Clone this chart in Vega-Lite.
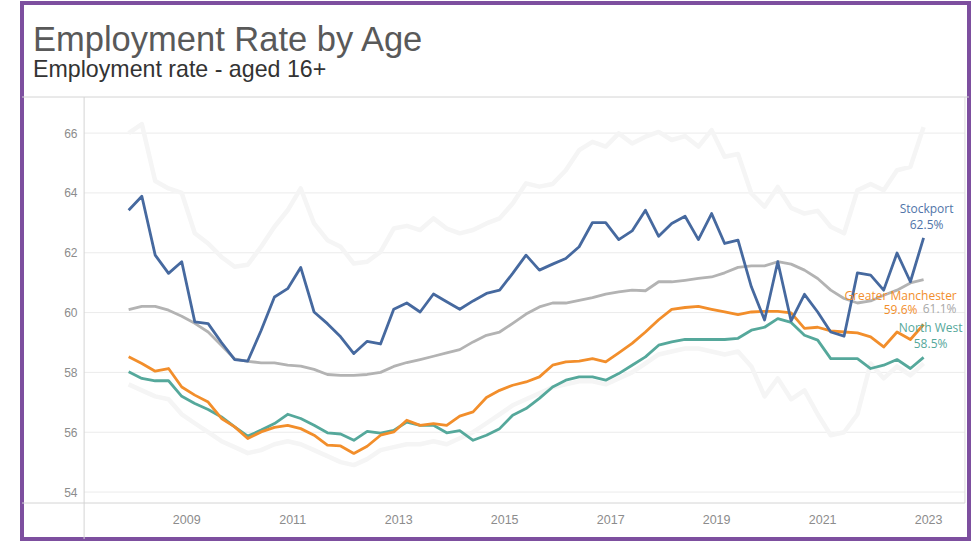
{
  "$schema": "https://vega.github.io/schema/vega-lite/v6.json",
  "width": 947,
  "height": 536,
  "autosize": {"type": "none"},
  "padding": {"left": 22, "top": 3, "right": 3, "bottom": 2},
  "background": "white",
  "view": {"stroke": "#7d4f9f", "strokeWidth": 4},
  "title": {
    "text": "Employment Rate by Age",
    "subtitle": "Employment rate - aged 16+",
    "anchor": "start",
    "frame": "group",
    "font": "Liberation Sans",
    "fontSize": 34.5,
    "fontWeight": "normal",
    "color": "#595959",
    "subtitleFont": "Liberation Sans",
    "subtitleFontSize": 23.2,
    "subtitleColor": "#333333",
    "subtitlePadding": 0,
    "offset": 0,
    "dx": 11,
    "dy": 79
  },
  "datasets": {
    "emp": [
      {"d": "2007-12-01", "SP": 63.42, "GB": 60.10, "GM": 58.52, "NW": 58.02, "HI": 66.0, "LO": 57.6},
      {"d": "2008-03-01", "SP": 63.89, "GB": 60.21, "GM": 58.30, "NW": 57.80, "HI": 66.3, "LO": 57.4},
      {"d": "2008-06-01", "SP": 61.92, "GB": 60.21, "GM": 58.04, "NW": 57.72, "HI": 64.4, "LO": 57.2},
      {"d": "2008-09-01", "SP": 61.31, "GB": 60.08, "GM": 58.13, "NW": 57.72, "HI": 64.15, "LO": 57.1},
      {"d": "2008-12-01", "SP": 61.70, "GB": 59.88, "GM": 57.51, "NW": 57.20, "HI": 64.0, "LO": 56.6},
      {"d": "2009-03-01", "SP": 59.69, "GB": 59.64, "GM": 57.24, "NW": 56.96, "HI": 62.65, "LO": 56.3},
      {"d": "2009-06-01", "SP": 59.63, "GB": 59.35, "GM": 57.01, "NW": 56.76, "HI": 62.31, "LO": 56.0},
      {"d": "2009-09-01", "SP": 59.00, "GB": 58.90, "GM": 56.46, "NW": 56.51, "HI": 61.86, "LO": 55.7},
      {"d": "2009-12-01", "SP": 58.43, "GB": 58.45, "GM": 56.18, "NW": 56.18, "HI": 61.53, "LO": 55.5},
      {"d": "2010-03-01", "SP": 58.38, "GB": 58.37, "GM": 55.79, "NW": 55.87, "HI": 61.6, "LO": 55.3},
      {"d": "2010-06-01", "SP": 59.40, "GB": 58.32, "GM": 56.01, "NW": 56.07, "HI": 62.2, "LO": 55.4},
      {"d": "2010-09-01", "SP": 60.52, "GB": 58.32, "GM": 56.16, "NW": 56.29, "HI": 62.87, "LO": 55.6},
      {"d": "2010-12-01", "SP": 60.80, "GB": 58.24, "GM": 56.23, "NW": 56.60, "HI": 63.42, "LO": 55.7},
      {"d": "2011-03-01", "SP": 61.51, "GB": 58.21, "GM": 56.12, "NW": 56.46, "HI": 64.15, "LO": 55.6},
      {"d": "2011-06-01", "SP": 60.02, "GB": 58.10, "GM": 55.90, "NW": 56.23, "HI": 62.98, "LO": 55.4},
      {"d": "2011-09-01", "SP": 59.63, "GB": 57.93, "GM": 55.57, "NW": 55.98, "HI": 62.42, "LO": 55.2},
      {"d": "2011-12-01", "SP": 59.19, "GB": 57.90, "GM": 55.54, "NW": 55.94, "HI": 62.2, "LO": 55.0},
      {"d": "2012-03-01", "SP": 58.63, "GB": 57.90, "GM": 55.29, "NW": 55.73, "HI": 61.64, "LO": 54.9},
      {"d": "2012-06-01", "SP": 59.04, "GB": 57.93, "GM": 55.53, "NW": 56.03, "HI": 61.7, "LO": 55.1},
      {"d": "2012-09-01", "SP": 58.95, "GB": 58.00, "GM": 55.90, "NW": 55.97, "HI": 62.03, "LO": 55.4},
      {"d": "2012-12-01", "SP": 60.11, "GB": 58.20, "GM": 56.01, "NW": 56.06, "HI": 62.81, "LO": 55.5},
      {"d": "2013-03-01", "SP": 60.32, "GB": 58.33, "GM": 56.40, "NW": 56.34, "HI": 62.9, "LO": 55.6},
      {"d": "2013-06-01", "SP": 60.02, "GB": 58.43, "GM": 56.23, "NW": 56.23, "HI": 62.76, "LO": 55.6},
      {"d": "2013-09-01", "SP": 60.62, "GB": 58.54, "GM": 56.29, "NW": 56.23, "HI": 63.15, "LO": 55.7},
      {"d": "2013-12-01", "SP": 60.36, "GB": 58.65, "GM": 56.23, "NW": 55.98, "HI": 62.81, "LO": 55.6},
      {"d": "2014-03-01", "SP": 60.11, "GB": 58.76, "GM": 56.54, "NW": 56.05, "HI": 62.65, "LO": 55.8},
      {"d": "2014-06-01", "SP": 60.39, "GB": 59.02, "GM": 56.68, "NW": 55.73, "HI": 62.76, "LO": 56.0},
      {"d": "2014-09-01", "SP": 60.64, "GB": 59.24, "GM": 57.16, "NW": 55.90, "HI": 62.98, "LO": 56.3},
      {"d": "2014-12-01", "SP": 60.75, "GB": 59.35, "GM": 57.40, "NW": 56.12, "HI": 63.15, "LO": 56.6},
      {"d": "2015-03-01", "SP": 61.31, "GB": 59.64, "GM": 57.57, "NW": 56.57, "HI": 63.65, "LO": 56.9},
      {"d": "2015-06-01", "SP": 61.92, "GB": 59.95, "GM": 57.68, "NW": 56.79, "HI": 64.32, "LO": 57.1},
      {"d": "2015-09-01", "SP": 61.42, "GB": 60.19, "GM": 57.85, "NW": 57.13, "HI": 64.21, "LO": 57.3},
      {"d": "2015-12-01", "SP": 61.62, "GB": 60.32, "GM": 58.24, "NW": 57.51, "HI": 64.3, "LO": 57.5},
      {"d": "2016-03-01", "SP": 61.81, "GB": 60.32, "GM": 58.35, "NW": 57.74, "HI": 64.76, "LO": 57.6},
      {"d": "2016-06-01", "SP": 62.20, "GB": 60.41, "GM": 58.38, "NW": 57.85, "HI": 65.43, "LO": 57.7},
      {"d": "2016-09-01", "SP": 63.01, "GB": 60.50, "GM": 58.46, "NW": 57.85, "HI": 65.71, "LO": 57.7},
      {"d": "2016-12-01", "SP": 63.01, "GB": 60.62, "GM": 58.35, "NW": 57.74, "HI": 65.55, "LO": 57.6},
      {"d": "2017-03-01", "SP": 62.44, "GB": 60.69, "GM": 58.65, "NW": 57.96, "HI": 65.99, "LO": 57.8},
      {"d": "2017-06-01", "SP": 62.73, "GB": 60.75, "GM": 58.97, "NW": 58.24, "HI": 65.65, "LO": 58.0},
      {"d": "2017-09-01", "SP": 63.42, "GB": 60.73, "GM": 59.35, "NW": 58.52, "HI": 65.88, "LO": 58.3},
      {"d": "2017-12-01", "SP": 62.55, "GB": 61.03, "GM": 59.76, "NW": 58.91, "HI": 66.04, "LO": 58.6},
      {"d": "2018-03-01", "SP": 62.98, "GB": 61.03, "GM": 60.11, "NW": 59.02, "HI": 65.77, "LO": 58.7},
      {"d": "2018-06-01", "SP": 63.22, "GB": 61.08, "GM": 60.17, "NW": 59.10, "HI": 65.9, "LO": 58.8},
      {"d": "2018-09-01", "SP": 62.44, "GB": 61.14, "GM": 60.21, "NW": 59.10, "HI": 65.55, "LO": 58.8},
      {"d": "2018-12-01", "SP": 63.31, "GB": 61.19, "GM": 60.11, "NW": 59.10, "HI": 66.1, "LO": 58.7},
      {"d": "2019-03-01", "SP": 62.31, "GB": 61.33, "GM": 60.02, "NW": 59.10, "HI": 65.21, "LO": 58.6},
      {"d": "2019-06-01", "SP": 62.42, "GB": 61.51, "GM": 59.93, "NW": 59.14, "HI": 65.3, "LO": 58.7},
      {"d": "2019-09-01", "SP": 60.86, "GB": 61.56, "GM": 60.02, "NW": 59.41, "HI": 63.98, "LO": 58.2},
      {"d": "2019-12-01", "SP": 59.75, "GB": 61.56, "GM": 60.04, "NW": 59.51, "HI": 63.54, "LO": 57.2},
      {"d": "2020-03-01", "SP": 61.70, "GB": 61.70, "GM": 60.04, "NW": 59.80, "HI": 64.2, "LO": 57.8},
      {"d": "2020-06-01", "SP": 59.72, "GB": 61.62, "GM": 59.99, "NW": 59.67, "HI": 63.5, "LO": 57.1},
      {"d": "2020-09-01", "SP": 60.61, "GB": 61.42, "GM": 59.47, "NW": 59.24, "HI": 63.31, "LO": 57.4},
      {"d": "2020-12-01", "SP": 60.02, "GB": 61.14, "GM": 59.51, "NW": 59.08, "HI": 63.4, "LO": 56.6},
      {"d": "2021-03-01", "SP": 59.35, "GB": 60.75, "GM": 59.39, "NW": 58.46, "HI": 62.87, "LO": 55.9},
      {"d": "2021-06-01", "SP": 59.21, "GB": 60.47, "GM": 59.35, "NW": 58.46, "HI": 62.65, "LO": 56.0},
      {"d": "2021-09-01", "SP": 61.33, "GB": 60.32, "GM": 59.32, "NW": 58.46, "HI": 64.09, "LO": 56.6},
      {"d": "2021-12-01", "SP": 61.25, "GB": 60.39, "GM": 59.19, "NW": 58.13, "HI": 64.3, "LO": 58.3},
      {"d": "2022-03-01", "SP": 60.75, "GB": 60.58, "GM": 58.85, "NW": 58.24, "HI": 64.09, "LO": 57.8},
      {"d": "2022-06-01", "SP": 61.99, "GB": 60.75, "GM": 59.35, "NW": 58.43, "HI": 64.76, "LO": 58.2},
      {"d": "2022-09-01", "SP": 61.03, "GB": 60.99, "GM": 59.10, "NW": 58.13, "HI": 64.87, "LO": 57.9},
      {"d": "2022-12-01", "SP": 62.50, "GB": 61.10, "GM": 59.60, "NW": 58.50, "HI": 66.2, "LO": 58.3}
    ]
  },
  "layer": [
    {
      "data": {"name": "emp"},
      "transform": [{"fold": ["GB", "NW", "GM", "SP"], "as": ["key", "value"]}],
      "mark": {"type": "line", "strokeWidth": 0, "opacity": 0},
      "encoding": {
        "x": {
          "field": "d",
          "type": "temporal",
          "scale": {"domain": [{"year": 2005, "month": 11, "date": 26}, {"year": 2023, "month": 10, "date": 10}]},
          "axis": {
            "orient": "bottom",
            "offset": -36,
            "values": [{"year": 2009}, {"year": 2011}, {"year": 2013}, {"year": 2015}, {"year": 2017}, {"year": 2019}, {"year": 2021}, {"year": 2023}],
            "format": "%Y",
            "grid": false,
            "domain": false,
            "ticks": false,
            "tickSize": 0,
            "labelPadding": 10,
            "labelFont": "Liberation Sans",
            "labelFontSize": 12.5,
            "labelColor": "#8c8c8c",
            "title": null
          }
        },
        "y": {
          "field": "value",
          "type": "quantitative",
          "scale": {"domain": [52.43, 70.35], "nice": false, "zero": false},
          "axis": {
            "orient": "left",
            "offset": -62,
            "values": [54, 56, 58, 60, 62, 64, 66],
            "grid": false,
            "domain": false,
            "ticks": false,
            "tickSize": 0,
            "labelPadding": 7,
            "labelFont": "Liberation Sans",
            "labelFontSize": 12,
            "labelColor": "#8c8c8c",
            "title": null
          }
        },
        "detail": {"field": "key"}
      }
    },
    {
      "data": {"values": [{"v": 54}, {"v": 56}, {"v": 58}, {"v": 60}, {"v": 62}, {"v": 64}, {"v": 66}]},
      "mark": {"type": "rule", "color": "#ebebeb", "strokeWidth": 1},
      "encoding": {
        "y": {"field": "v", "type": "quantitative"},
        "x": {"datum": {"year": 2007, "month": 1, "date": 28}, "type": "temporal"},
        "x2": {"datum": {"year": 2023, "month": 9, "date": 12}}
      }
    },
    {
      "data": {"name": "emp"},
      "transform": [{"fold": ["HI", "LO"], "as": ["key", "value"]}],
      "mark": {"type": "line", "color": "#f5f5f5", "strokeWidth": 4.5, "strokeJoin": "round"},
      "encoding": {
        "x": {"field": "d", "type": "temporal"},
        "y": {"field": "value", "type": "quantitative"},
        "detail": {"field": "key"}
      }
    },
    {
      "data": {"values": [{}]},
      "mark": {"type": "rule", "color": "#d4d4d4", "strokeWidth": 1},
      "encoding": {
        "x": {"datum": {"year": 2007, "month": 1, "date": 28}, "type": "temporal"},
        "y": {"datum": 67.207, "type": "quantitative"},
        "y2": {"datum": 52.43}
      }
    },
    {
      "data": {"values": [{}]},
      "mark": {"type": "rule", "color": "#dcdcdc", "strokeWidth": 1},
      "encoding": {
        "x": {"datum": {"year": 2023, "month": 9, "date": 12}, "type": "temporal"},
        "y": {"datum": 67.207, "type": "quantitative"},
        "y2": {"datum": 53.633}
      }
    },
    {
      "data": {"values": [{}]},
      "mark": {"type": "rule", "color": "#d4d4d4", "strokeWidth": 1},
      "encoding": {
        "y": {"datum": 67.207, "type": "quantitative"}
      }
    },
    {
      "data": {"values": [{}]},
      "mark": {"type": "rule", "color": "#d4d4d4", "strokeWidth": 1},
      "encoding": {
        "x": {"datum": {"year": 2005, "month": 11, "date": 26}, "type": "temporal"},
        "x2": {"datum": {"year": 2023, "month": 9, "date": 12}},
        "y": {"datum": 53.633, "type": "quantitative"}
      }
    },
    {
      "data": {"name": "emp"},
      "transform": [{"fold": ["GB", "NW", "GM", "SP"], "as": ["key", "value"]}],
      "mark": {"type": "line", "strokeWidth": 2.8, "strokeJoin": "round"},
      "encoding": {
        "x": {"field": "d", "type": "temporal"},
        "y": {"field": "value", "type": "quantitative"},
        "color": {
          "field": "key",
          "type": "nominal",
          "scale": {"domain": ["GB", "NW", "GM", "SP"], "range": ["#b3b3b3", "#55a89b", "#f28e2b", "#46699f"]},
          "legend": null
        }
      }
    },
    {
      "data": {"name": "emp"},
      "transform": [{"filter": {"timeUnit": "utcyearmonth", "field": "d", "equal": {"year": 2022, "month": 12, "utc": true}}}],
      "mark": {"type": "text", "align": "center", "baseline": "middle", "dx": 16, "dy": 29.5, "font": "Open Sans", "fontSize": 12, "color": "#a8a8a8"},
      "encoding": {
        "x": {"field": "d", "type": "temporal"},
        "y": {"field": "GB", "type": "quantitative"},
        "text": {"value": "61.1%"}
      }
    },
    {
      "data": {"name": "emp"},
      "transform": [{"filter": {"timeUnit": "utcyearmonth", "field": "d", "equal": {"year": 2022, "month": 12, "utc": true}}}],
      "mark": {"type": "text", "align": "center", "baseline": "middle", "dx": -23, "dy": -29, "lineHeight": 14, "font": "Open Sans", "fontSize": 12, "color": "#f28e2b"},
      "encoding": {
        "x": {"field": "d", "type": "temporal"},
        "y": {"field": "GM", "type": "quantitative"},
        "text": {"value": ["Greater Manchester", "59.6%"]}
      }
    },
    {
      "data": {"name": "emp"},
      "transform": [{"filter": {"timeUnit": "utcyearmonth", "field": "d", "equal": {"year": 2022, "month": 12, "utc": true}}}],
      "mark": {"type": "text", "align": "center", "baseline": "middle", "dx": 7, "dy": -29, "lineHeight": 16, "font": "Open Sans", "fontSize": 12, "color": "#55a89b"},
      "encoding": {
        "x": {"field": "d", "type": "temporal"},
        "y": {"field": "NW", "type": "quantitative"},
        "text": {"value": ["North West", "58.5%"]}
      }
    },
    {
      "data": {"name": "emp"},
      "transform": [{"filter": {"timeUnit": "utcyearmonth", "field": "d", "equal": {"year": 2022, "month": 12, "utc": true}}}],
      "mark": {"type": "text", "align": "center", "baseline": "middle", "dx": 3, "dy": -29, "lineHeight": 16, "font": "Open Sans", "fontSize": 12, "color": "#4f74a8"},
      "encoding": {
        "x": {"field": "d", "type": "temporal"},
        "y": {"field": "SP", "type": "quantitative"},
        "text": {"value": ["Stockport", "62.5%"]}
      }
    }
  ]
}
